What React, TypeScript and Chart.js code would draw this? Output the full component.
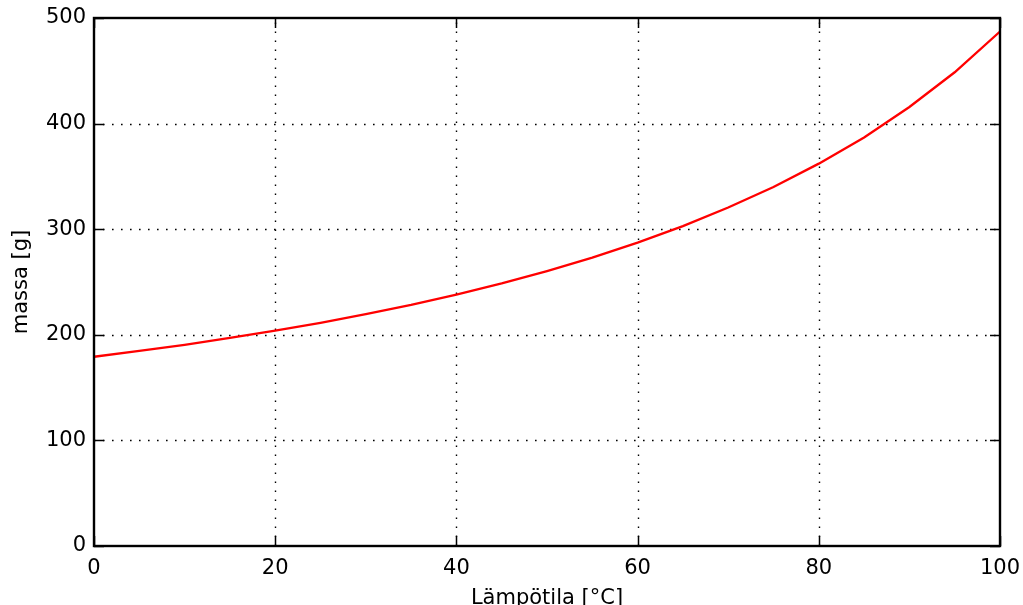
import React, { useEffect, useRef } from "react";
import { Chart, registerables } from "chart.js";

Chart.register(...registerables);

const temperatures = [0, 5, 10, 15, 20, 25, 30, 35, 40, 45, 50, 55, 60, 65, 70, 75, 80, 85, 90, 95, 100];
const masses = [179.2, 184.7, 190.5, 197.0, 203.9, 211.4, 219.5, 228.3, 238.1, 248.7, 260.4, 273.1, 287.3, 302.9, 320.5, 339.9, 362.1, 386.8, 415.7, 448.6, 487.2];
const xTicks = [0, 20, 40, 60, 80, 100];
const yTicks = [0, 100, 200, 300, 400, 500];
const xTitle = "Lämpötila [°C]";
const yTitle = "massa [g]";

const FONT = "'DejaVu Sans', sans-serif";
const FS = 21;

const framePlugin = {
  id: "mplFrame",
  beforeDatasetsDraw(chart: any) {
    const { ctx, chartArea: a, scales } = chart;
    const x = scales.x;
    const y = scales.y;
    ctx.save();
    ctx.strokeStyle = "#000";
    ctx.lineWidth = 1.4;
    ctx.setLineDash([1.6, 7.4]);
    xTicks.forEach((v) => {
      if (v <= x.min || v >= x.max) return;
      const px = Math.round(x.getPixelForValue(v)) + 0.5;
      ctx.beginPath();
      ctx.moveTo(px, a.bottom);
      ctx.lineTo(px, a.top);
      ctx.stroke();
    });
    yTicks.forEach((v) => {
      if (v <= y.min || v >= y.max) return;
      const py = Math.round(y.getPixelForValue(v)) + 0.5;
      ctx.beginPath();
      ctx.moveTo(a.left, py);
      ctx.lineTo(a.right, py);
      ctx.stroke();
    });
    ctx.restore();
  },
  afterDatasetsDraw(chart: any) {
    const { ctx, chartArea: a, scales } = chart;
    const x = scales.x;
    const y = scales.y;
    const tl = 10;
    ctx.save();
    ctx.strokeStyle = "#000";
    ctx.setLineDash([]);
    ctx.lineWidth = 1.5;
    xTicks.forEach((v) => {
      const px = Math.round(x.getPixelForValue(v)) + 0.5;
      ctx.beginPath();
      ctx.moveTo(px, a.bottom);
      ctx.lineTo(px, a.bottom - tl);
      ctx.moveTo(px, a.top);
      ctx.lineTo(px, a.top + tl);
      ctx.stroke();
    });
    yTicks.forEach((v) => {
      const py = Math.round(y.getPixelForValue(v)) + 0.5;
      ctx.beginPath();
      ctx.moveTo(a.left, py);
      ctx.lineTo(a.left + tl, py);
      ctx.moveTo(a.right, py);
      ctx.lineTo(a.right - tl, py);
      ctx.stroke();
    });
    ctx.lineWidth = 2.4;
    ctx.strokeRect(a.left, a.top, a.right - a.left, a.bottom - a.top);
    ctx.restore();
  },
};

export default function App() {
  const canvasRef = useRef<HTMLCanvasElement | null>(null);

  useEffect(() => {
    document.body.style.margin = "0";
    const canvas = canvasRef.current;
    if (!canvas) return;
    const chart = new Chart(canvas, {
      type: "line",
      data: {
        datasets: [
          {
            label: "massa",
            data: temperatures.map((t, i) => ({ x: t, y: masses[i] })),
            borderColor: "#ff0000",
            backgroundColor: "#ff0000",
            borderWidth: 2.3,
            pointRadius: 0,
            tension: 0,
            fill: false,
          },
        ],
      },
      options: {
        responsive: false,
        animation: false,
        devicePixelRatio: 1,
        layout: { padding: { top: 18, right: 23, bottom: 0, left: 0 } },
        plugins: {
          legend: { display: false },
          tooltip: { enabled: false },
        },
        scales: {
          x: {
            type: "linear",
            min: 0,
            max: 100,
            afterFit: (s: any) => {
              s.height = 59;
              s.paddingLeft = 0;
              s.paddingRight = 0;
            },
            afterBuildTicks: (s: any) => {
              s.ticks = xTicks.map((v) => ({ value: v }));
            },
            grid: { display: false, drawTicks: false },
            border: { display: false },
            ticks: {
              color: "#000",
              font: { family: FONT, size: FS },
              padding: 10,
              maxRotation: 0,
            },
            title: {
              display: true,
              text: xTitle,
              color: "#000",
              font: { family: FONT, size: FS },
              padding: { top: 0, bottom: -6 },
            },
          },
          y: {
            type: "linear",
            min: 0,
            max: 500,
            afterFit: (s: any) => {
              s.width = 94;
              s.paddingTop = 0;
              s.paddingBottom = 0;
            },
            afterBuildTicks: (s: any) => {
              s.ticks = yTicks.map((v) => ({ value: v }));
            },
            grid: { display: false, drawTicks: false },
            border: { display: false },
            ticks: {
              color: "#000",
              font: { family: FONT, size: FS },
              padding: 8,
            },
            title: {
              display: true,
              text: yTitle,
              color: "#000",
              font: { family: FONT, size: FS },
              padding: { top: 9, bottom: 0 },
            },
          },
        },
      },
      plugins: [framePlugin],
    });
    return () => chart.destroy();
  }, []);

  return (
    <div style={{ width: 1023, height: 605 }}>
      <canvas ref={canvasRef} width={1023} height={605} style={{ width: 1023, height: 605, display: "block" }} />
    </div>
  );
}
